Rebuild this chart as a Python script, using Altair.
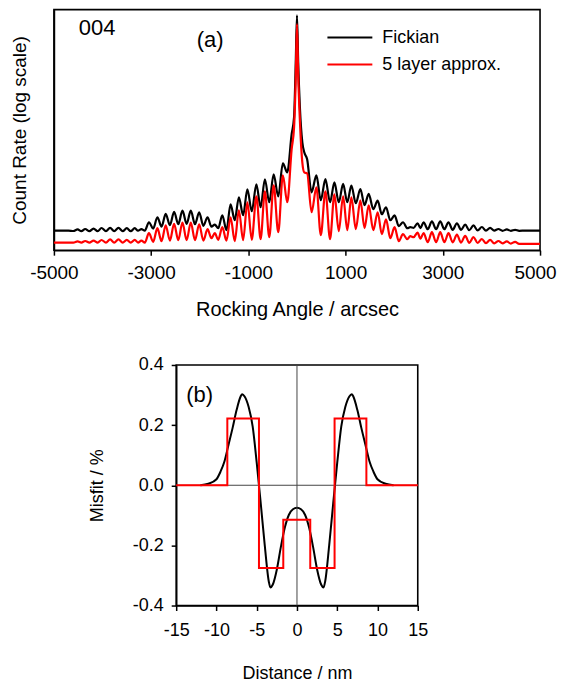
import altair as alt
import pandas as pd

FONT = "Liberation Sans"

# ---------------- Panel (a): X-ray rocking curves (004) ----------------
# rocking angle (arcsec) of curve extrema / sample points
angle = [-5000, -4700, -4600, -4513, -4435, -4357, -4270, -4185, -4100, -4021,
         -3930, -3844, -3760, -3672, -3585, -3501, -3420, -3337, -3270, -3200,
         -3130, -3045, -2958, -2872, -2786, -2700, -2614, -2528, -2442, -2356,
         -2270, -2184, -2098, -2012, -1926, -1840, -1760, -1690, -1620, -1536,
         -1450, -1366, -1280, -1195, -1108, -1020, -930, -835, -748, -660,
         -570, -480, -385, -290, -200, -110, -60, -25, 0, 25,
         60, 110, 150, 209, 300, 400, 490, 585, 680, 770,
         860, 949, 1035, 1119, 1210, 1304, 1390, 1475, 1570, 1660,
         1745, 1832, 1920, 2008, 2095, 2181, 2270, 2330, 2400, 2480,
         2540, 2604, 2690, 2776, 2862, 2947, 3032, 3117, 3204, 3290,
         3375, 3460, 3545, 3631, 3717, 3803, 3888, 3973, 4058, 4144,
         4230, 4316, 4400, 4487, 4570, 4700, 5000]

# log10(count rate), Fickian profile (black)
fickian_log = [0.49, 0.49, 0.48, 0.52, 0.475, 0.53, 0.475, 0.54, 0.475, 0.555,
               0.475, 0.56, 0.475, 0.56, 0.475, 0.55, 0.475, 0.55, 0.49, 0.525,
               0.49, 0.70, 0.54, 0.825, 0.59, 0.91, 0.625, 0.96, 0.65, 0.99,
               0.66, 0.99, 0.65, 0.95, 0.61, 0.825, 0.59, 0.64, 0.55, 0.875,
               0.50, 1.15, 0.75, 1.325, 0.875, 1.525, 0.975, 1.65, 1.075, 1.775,
               1.20, 1.90, 1.35, 2.175, 1.95, 2.90, 3.325, 4.70, 5.88, 4.70,
               3.575, 2.70, 2.45, 2.28, 1.45, 1.875, 1.25, 1.78, 1.20, 1.70,
               1.20, 1.66, 1.20, 1.62, 1.175, 1.53, 1.125, 1.41, 1.025, 1.24,
               0.90, 1.075, 0.75, 0.87, 0.60, 0.70, 0.55, 0.575, 0.56, 0.675,
               0.55, 0.70, 0.525, 0.72, 0.525, 0.72, 0.525, 0.70, 0.51, 0.675,
               0.51, 0.64, 0.50, 0.62, 0.495, 0.58, 0.49, 0.56, 0.49, 0.53,
               0.485, 0.52, 0.485, 0.51, 0.485, 0.49, 0.49]

# log10(count rate), 5 layer approximation (red)
layer5_log = [0.19, 0.19, 0.19, 0.22, 0.19, 0.23, 0.19, 0.24, 0.19, 0.255,
              0.19, 0.27, 0.19, 0.27, 0.19, 0.26, 0.19, 0.26, 0.19, 0.24,
              0.19, 0.425, 0.21, 0.55, 0.225, 0.625, 0.24, 0.66, 0.25, 0.69,
              0.25, 0.69, 0.25, 0.65, 0.24, 0.525, 0.30, 0.425, 0.26, 0.575,
              0.24, 0.825, 0.225, 1.00, 0.25, 1.20, 0.26, 1.35, 0.275, 1.475,
              0.325, 1.625, 0.45, 1.875, 1.20, 2.525, 3.075, 4.325, 5.66, 4.40,
              3.25, 2.20, 1.95, 1.925, 0.95, 1.575, 0.375, 1.475, 0.275, 1.40,
              0.475, 1.35, 0.50, 1.325, 0.525, 1.25, 0.55, 1.125, 0.50, 0.95,
              0.40, 0.775, 0.30, 0.575, 0.225, 0.40, 0.275, 0.35, 0.325, 0.44,
              0.29, 0.43, 0.20, 0.45, 0.20, 0.45, 0.20, 0.425, 0.195, 0.39,
              0.19, 0.36, 0.185, 0.325, 0.18, 0.28, 0.175, 0.26, 0.17, 0.23,
              0.17, 0.22, 0.165, 0.21, 0.16, 0.16, 0.16]

# ---------------- Panel (b): misfit profiles ----------------
dist_fickian = [-12, -11, -10, -9.5, -9, -8.5, -8, -7.5, -7, -6.8, -6.5, -6, -5.5,
                -5, -4.5, -4, -3.5, -3.3, -3, -2.5, -2, -1.5, -1, -0.5, 0,
                0.5, 1, 1.5, 2, 2.5, 3, 3.3, 3.5, 4, 4.5, 5, 5.5, 6, 6.5,
                6.8, 7, 7.5, 8, 8.5, 9, 9.5, 10, 11, 12]
misfit_fickian = [0.0, 0.005, 0.02, 0.045, 0.08, 0.135, 0.19, 0.25, 0.295, 0.303,
                  0.295, 0.26, 0.195, 0.075, -0.06, -0.20, -0.32, -0.34, -0.33,
                  -0.28, -0.205, -0.14, -0.098, -0.08, -0.075,
                  -0.08, -0.098, -0.14, -0.205, -0.28, -0.33, -0.34, -0.32, -0.20,
                  -0.06, 0.075, 0.195, 0.26, 0.295, 0.303, 0.295, 0.25, 0.19,
                  0.135, 0.08, 0.045, 0.02, 0.005, 0.0]

dist_layers = [-15, -8.65, -4.72, -1.7, 1.65, 4.67, 8.62, 15]
misfit_layers = [0.0, 0.222, -0.275, -0.115, -0.275, 0.222, 0.0, 0.0]

# ---------------- data frames ----------------
rock_f = pd.DataFrame({"angle": angle, "count": [10 ** v for v in fickian_log]})
rock_l = pd.DataFrame({"angle": angle, "count": [10 ** v for v in layer5_log]})
mis_f = pd.DataFrame({"d": dist_fickian, "m": misfit_fickian})
mis_l = pd.DataFrame({"d": dist_layers, "m": misfit_layers})
one = pd.DataFrame({"k": [0]})

W1, H1 = 487, 241
W2, H2 = 242, 241
MINUS = "replace(datum.label, '\u2212', '-')"

xa = alt.X("angle:Q",
           scale=alt.Scale(domain=[-5000, 5000], nice=False, zero=False),
           axis=alt.Axis(values=[-5000, -3000, -1000, 1000, 3000, 5000],
                         format="d", title="Rocking Angle / arcsec",
                         labelExpr=MINUS, labelFlush=False, labelOverlap=False,
                         labelOffset={"condition": {"test": "datum.value == 5000", "value": -5},
                                      "value": 0},
                         labelFontSize=19, titleFontSize=20,
                         labelPadding=8, titlePadding=17, grid=False))
ya = alt.Y("count:Q",
           scale=alt.Scale(type="log", domain=[1, 10 ** 6.025], nice=False),
           axis=alt.Axis(labels=False, ticks=False, grid=False, titleFontSize=19,
                         title="Count Rate (log scale)", titlePadding=24))

line_f = alt.Chart(rock_f).mark_line(color="black", strokeWidth=2.2,
                                     interpolate="monotone").encode(x=xa, y=ya)
line_l = alt.Chart(rock_l).mark_line(color="#ff0000", strokeWidth=2.2,
                                     interpolate="monotone").encode(x="angle:Q", y="count:Q")

leg_f = alt.Chart(one).mark_rule(color="black", strokeWidth=2).encode(
    x=alt.value(274), x2=alt.value(319), y=alt.value(28))
leg_l = alt.Chart(one).mark_rule(color="#ff0000", strokeWidth=2).encode(
    x=alt.value(274), x2=alt.value(319), y=alt.value(55))
txt_f = alt.Chart(one).mark_text(align="left", baseline="middle", font=FONT,
                                 fontSize=18, color="black").encode(
    x=alt.value(329), y=alt.value(28), text=alt.value("Fickian"))
txt_l = alt.Chart(one).mark_text(align="left", baseline="middle", font=FONT,
                                 fontSize=18, color="black").encode(
    x=alt.value(329), y=alt.value(55), text=alt.value("5 layer approx."))
txt_004 = alt.Chart(one).mark_text(align="left", baseline="middle", font=FONT,
                                   fontSize=22, color="black").encode(
    x=alt.value(25), y=alt.value(18), text=alt.value("004"))
txt_a = alt.Chart(one).mark_text(align="left", baseline="middle", font=FONT,
                                 fontSize=22, color="black").encode(
    x=alt.value(143), y=alt.value(30), text=alt.value("(a)"))

top = alt.layer(line_f, line_l, leg_f, leg_l, txt_f, txt_l, txt_004, txt_a).properties(
    width=W1, height=H1)

xb = alt.X("d:Q", scale=alt.Scale(domain=[-15, 15], nice=False, zero=False),
           axis=alt.Axis(values=[-15, -10, -5, 0, 5, 10, 15], title="Distance / nm",
                         labelExpr=MINUS, labelFlush=False, labelOverlap=False,
                         labelFontSize=18, titleFontSize=18,
                         labelPadding=11, titlePadding=25, grid=False))
yb = alt.Y("m:Q", scale=alt.Scale(domain=[-0.4, 0.4], nice=False, zero=False),
           axis=alt.Axis(values=[-0.4, -0.2, 0.0, 0.2, 0.4], format=".1f",
                         labelExpr=MINUS, labelFlush=False, labelOverlap=False,
                         labelFontSize=18, titleFontSize=18,
                         title="Misfit / %", labelPadding=8, titlePadding=26,
                         grid=False))

zero_v = alt.Chart(pd.DataFrame({"d": [0]})).mark_rule(color="#444444", strokeWidth=1).encode(x="d:Q")
zero_h = alt.Chart(pd.DataFrame({"m": [0]})).mark_rule(color="#444444", strokeWidth=1).encode(y="m:Q")
mline_f = alt.Chart(mis_f).mark_line(color="black", strokeWidth=2,
                                     interpolate="monotone").encode(x=xb, y=yb)
mline_l = alt.Chart(mis_l).mark_line(color="#ff0000", strokeWidth=2,
                                     interpolate="step-after").encode(x="d:Q", y="m:Q")
txt_b = alt.Chart(one).mark_text(align="left", baseline="middle", font=FONT,
                                 fontSize=22, color="black").encode(
    x=alt.value(10), y=alt.value(30), text=alt.value("(b)"))

bottom = alt.layer(mline_f, zero_v, zero_h, mline_l, txt_b).properties(width=W2, height=H2)

chart = alt.vconcat(top, bottom, spacing=115, center=True, bounds="flush").properties(
    padding={"left": 2, "top": 0, "right": 0, "bottom": 5}
).configure_view(
    stroke="black", strokeWidth=1.6
).configure_axis(
    domainColor="black", domainWidth=1.6, tickColor="black", tickWidth=1.5, tickSize=5,
    labelColor="black", titleColor="black", labelFont=FONT, titleFont=FONT,
    titleFontWeight="normal"
)

chart.save("out.html", embed_options={"renderer": "svg", "actions": False})
